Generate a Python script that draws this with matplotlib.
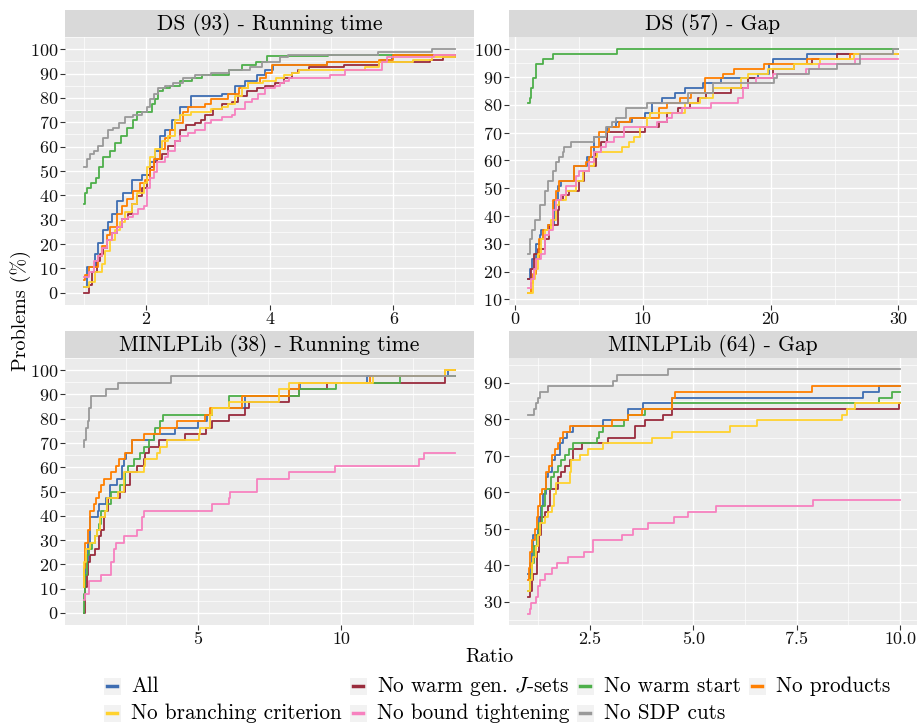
import matplotlib
matplotlib.use("Agg")
import matplotlib.pyplot as plt
from matplotlib.patches import Rectangle
from matplotlib.lines import Line2D

plt.rcParams['font.family'] = 'cmr10'
plt.rcParams['mathtext.fontset'] = 'cm'
plt.rcParams['axes.formatter.use_mathtext'] = True

##====================
## 系列名と色
##====================
labels = ["All", "No warm gen. $J$-sets", "No warm start", "No products",
          "No branching criterion", "No bound tightening", "No SDP cuts"]
colors = ["#3E6DB2", "#992B3C", "#4DAF4A", "#FF7F00",
          "#FFD22E", "#F781BF", "#999999"]

##====================
## DS (93) - Running time
##====================
dst_all_x = [1.0, 1.05, 1.19, 1.24, 1.32, 1.40, 1.46, 1.54, 1.64, 1.78, 1.94, 2.07, 2.15, 2.23, 2.31, 2.42,
             2.55, 2.74, 3.23, 3.44, 3.60, 3.80, 3.93, 4.06, 4.93, 5.80, 5.97, 7.0]
dst_all_y = [2.2, 10.8, 16.1, 20.4, 25.8, 29.0, 32.3, 37.6, 40.9, 46.2, 48.4, 53.8, 58.1, 64.5, 66.7, 71.0,
             76.3, 80.6, 81.7, 84.9, 87.1, 89.2, 91.4, 93.5, 94.6, 95.7, 97.8, 97.8]
dst_jset_x = [1.0, 1.08, 1.13, 1.21, 1.27, 1.32, 1.38, 1.46, 1.54, 1.62, 1.72, 1.78, 1.86, 1.94, 2.02, 2.07,
              2.13, 2.18, 2.26, 2.37, 2.47, 2.55, 2.66, 2.80, 2.90, 2.96, 3.09, 3.23, 3.39, 3.49, 3.63, 3.80,
              3.93, 4.09, 4.23, 4.36, 4.46, 4.63, 5.20, 5.76, 6.59, 6.80, 7.0]
dst_jset_y = [0.0, 3.2, 8.6, 12.9, 16.1, 18.3, 21.5, 24.7, 26.9, 30.1, 32.3, 36.6, 39.8, 43.0, 48.4, 51.6,
              53.8, 54.8, 57.0, 60.2, 62.4, 66.7, 68.8, 69.9, 71.0, 73.1, 75.3, 77.4, 78.5, 80.6, 82.8, 83.9,
              85.0, 86.0, 88.2, 90.3, 91.4, 92.5, 93.5, 94.6, 95.7, 96.8, 96.8]
dst_warm_x = [1.0, 1.03, 1.06, 1.12, 1.20, 1.25, 1.32, 1.42, 1.50, 1.60, 1.70, 1.80, 1.86, 2.10, 2.15, 2.20,
              2.28, 2.40, 2.55, 2.75, 2.91, 3.34, 3.55, 3.78, 3.96, 4.95, 7.0]
dst_warm_y = [36.6, 40.9, 43.0, 45.2, 47.3, 51.6, 55.9, 58.1, 61.3, 64.5, 67.7, 71.0, 74.2, 77.4, 79.6, 82.8,
              83.9, 84.9, 87.1, 88.2, 89.2, 91.4, 93.5, 94.6, 97.0, 97.8, 97.8]
dst_prod_x = [1.0, 1.03, 1.08, 1.24, 1.29, 1.38, 1.43, 1.54, 1.62, 1.70, 1.80, 1.91, 1.99, 2.07, 2.13, 2.23,
              2.31, 2.39, 2.47, 2.61, 2.69, 2.96, 3.06, 3.33, 3.50, 3.65, 3.85, 3.95, 4.04, 4.93, 5.76, 6.0, 7.0]
dst_prod_y = [5.4, 7.5, 10.8, 15.1, 19.4, 23.7, 26.9, 32.3, 35.5, 38.7, 41.9, 45.2, 46.2, 50.5, 54.8, 59.1,
              63.4, 66.7, 69.9, 74.2, 76.3, 77.4, 79.6, 81.7, 83.9, 86.0, 88.2, 90.3, 93.5, 94.6, 95.7, 97.8, 97.8]
dst_branch_x = [1.0, 1.08, 1.19, 1.29, 1.35, 1.43, 1.51, 1.59, 1.67, 1.78, 1.86, 1.97, 2.02, 2.07, 2.15, 2.26,
                2.37, 2.47, 2.55, 2.74, 3.06, 3.23, 3.33, 3.45, 3.55, 3.65, 3.90, 4.10, 4.23, 4.36, 4.47, 5.54,
                5.76, 6.32, 6.62, 7.0]
dst_branch_y = [2.2, 4.3, 8.6, 11.8, 17.2, 21.5, 25.8, 29.0, 33.3, 36.6, 40.9, 45.2, 51.6, 55.9, 59.1, 62.4,
                64.5, 71.0, 73.1, 74.2, 75.3, 76.3, 77.4, 80.6, 83.9, 86.0, 87.1, 88.2, 89.2, 90.3, 91.4, 92.5,
                94.6, 95.7, 96.8, 96.8]
dst_bound_x = [1.0, 1.08, 1.16, 1.24, 1.29, 1.38, 1.46, 1.54, 1.62, 1.72, 1.80, 1.88, 1.97, 2.02, 2.07, 2.13,
               2.18, 2.31, 2.37, 2.47, 2.55, 2.69, 2.80, 2.96, 3.06, 3.23, 3.39, 3.44, 3.60, 3.71, 3.82, 3.93,
               4.09, 4.17, 4.23, 4.31, 4.98, 5.22, 5.81, 5.89, 6.65, 7.0]
dst_bound_y = [6.5, 8.6, 12.9, 15.1, 18.3, 21.5, 24.7, 26.9, 30.1, 31.2, 32.3, 34.4, 35.5, 43.0, 47.3, 49.5,
               53.8, 55.9, 58.1, 62.4, 64.5, 65.6, 66.7, 69.9, 71.0, 72.0, 73.1, 75.3, 78.5, 79.6, 81.7, 83.9,
               84.9, 86.0, 87.1, 88.2, 89.2, 91.4, 94.6, 96.8, 97.8, 97.8]
dst_sdp_x = [1.0, 1.06, 1.10, 1.16, 1.24, 1.32, 1.40, 1.48, 1.57, 1.67, 1.80, 1.94, 2.02, 2.07, 2.13, 2.20,
             2.31, 2.45, 2.60, 2.80, 3.05, 3.35, 3.69, 3.88, 4.17, 4.30, 5.75, 6.62, 7.0]
dst_sdp_y = [51.6, 54.8, 57.0, 58.1, 60.2, 63.4, 66.7, 67.7, 69.9, 72.0, 73.1, 74.2, 76.3, 79.6, 81.7, 83.9,
             84.9, 86.0, 88.2, 89.2, 90.3, 91.4, 92.5, 94.6, 96.8, 97.8, 98.9, 100.0, 100.0]

##====================
## DS (57) - Gap
##====================
dsg_all_x = [1.0, 1.21, 1.37, 1.63, 1.94, 2.07, 2.58, 3.10, 3.36, 3.62, 4.65, 5.68, 6.20, 7.24, 7.88, 9.17,
             10.21, 10.72, 11.50, 12.53, 13.31, 14.73, 16.15, 18.99, 19.90, 20.16, 22.87, 30.0]
dsg_all_y = [17.5, 21.1, 24.6, 29.8, 33.3, 35.1, 36.8, 45.6, 50.9, 52.6, 57.9, 61.4, 68.4, 71.9, 73.7, 75.4,
             77.2, 80.7, 82.5, 84.2, 86.0, 87.7, 89.5, 91.2, 94.7, 96.5, 98.2, 98.2]
dsg_jset_x = [1.0, 1.29, 1.47, 1.81, 2.33, 2.71, 3.36, 3.49, 3.75, 4.26, 5.04, 5.43, 5.81, 6.33, 6.72, 7.24,
              10.21, 11.24, 11.89, 12.79, 13.70, 14.34, 14.99, 16.93, 18.22, 20.16, 21.83, 23.26, 25.19, 30.0]
dsg_jset_y = [17.5, 21.1, 26.3, 28.1, 31.6, 36.8, 42.1, 45.6, 47.4, 49.1, 52.6, 56.1, 57.9, 63.2, 66.7, 70.2,
              71.9, 73.7, 77.2, 78.9, 80.7, 82.5, 84.2, 86.0, 89.5, 93.0, 94.7, 96.5, 98.2, 98.2]
dsg_warm_x = [1.0, 1.16, 1.29, 1.42, 1.63, 2.20, 2.97, 8.01, 30.0]
dsg_warm_y = [80.7, 82.5, 86.0, 89.5, 94.7, 96.5, 98.2, 100.0, 100.0]
dsg_prod_x = [1.0, 1.29, 1.42, 1.63, 1.89, 2.20, 2.58, 2.97, 3.23, 3.44, 4.65, 5.56, 5.81, 5.94, 6.59, 7.36,
              8.14, 9.04, 11.24, 11.89, 12.92, 13.80, 14.86, 16.28, 17.18, 19.51, 22.87, 26.23, 30.0]
dsg_prod_y = [12.3, 15.8, 19.3, 24.6, 31.6, 35.1, 36.8, 45.6, 49.1, 52.6, 57.9, 59.6, 61.4, 64.9, 70.2, 71.9,
              73.7, 75.4, 78.9, 80.7, 82.5, 84.2, 89.5, 91.2, 93.0, 94.7, 96.5, 98.2, 98.2]
dsg_branch_x = [1.0, 1.42, 1.55, 1.81, 2.07, 2.40, 2.84, 3.23, 3.49, 4.01, 4.78, 5.30, 5.81, 6.20, 6.46, 8.40,
                8.91, 9.30, 9.82, 10.34, 10.59, 13.31, 14.47, 15.50, 17.70, 18.22, 19.77, 21.83, 23.90, 26.49, 30.0]
dsg_branch_y = [12.3, 17.5, 21.1, 26.3, 31.6, 35.1, 38.6, 43.9, 45.6, 49.1, 52.6, 56.1, 57.9, 61.4, 63.2, 64.9,
                66.7, 68.4, 71.9, 75.4, 77.2, 80.7, 82.5, 86.0, 89.5, 91.2, 93.0, 94.7, 96.5, 98.2, 98.2]
dsg_bound_x = [1.0, 1.29, 1.47, 1.68, 2.07, 2.33, 2.71, 2.97, 3.23, 3.62, 4.01, 4.78, 5.04, 5.81, 6.20, 6.72,
               7.11, 7.75, 8.53, 11.11, 11.89, 12.27, 13.05, 15.37, 17.44, 17.83, 18.22, 18.86, 20.16, 22.74,
               23.77, 26.61, 30.0]
dsg_bound_y = [14.0, 17.5, 21.1, 24.6, 26.3, 33.3, 35.1, 42.1, 45.6, 47.4, 50.9, 54.4, 56.1, 59.6, 63.2, 64.9,
               66.7, 68.4, 71.9, 73.7, 75.4, 77.2, 78.9, 80.7, 82.5, 86.0, 87.7, 89.5, 91.2, 93.0,
               94.7, 96.5, 96.5]
dsg_sdp_x = [1.0, 1.16, 1.37, 1.55, 1.94, 2.33, 2.58, 2.97, 3.23, 3.49, 3.75, 3.88, 4.39, 6.20, 7.11, 7.62,
             7.88, 8.66, 10.34, 13.57, 15.50, 20.28, 20.50, 23.00, 25.20, 27.00, 29.59, 30.0]
dsg_sdp_y = [26.3, 31.6, 35.1, 38.6, 43.9, 49.1, 52.6, 56.1, 59.6, 61.4, 63.2, 64.9, 66.7, 68.4, 71.9, 73.7,
             75.4, 78.9, 80.7, 84.2, 87.7, 89.5, 91.2, 93.0, 94.7, 98.2, 100.0, 100.0]

##====================
## MINLPLib (38) - Running time
##====================
mlt_all_x = [1.0, 1.06, 1.15, 1.23, 1.52, 1.55, 1.78, 1.93, 2.17, 2.36, 2.43, 2.48, 2.71, 3.45, 4.18, 5.0,
             5.31, 5.49, 6.63, 8.17, 8.55, 10.9, 13.73, 14.0]
mlt_all_y = [10.5, 21.1, 28.9, 39.5, 42.1, 44.7, 47.4, 52.6, 55.3, 60.5, 63.2, 65.8, 71.1, 73.7, 76.3, 78.9,
             81.6, 84.2, 89.5, 92.1, 94.7, 97.4, 100.0, 100.0]
mlt_jset_x = [1.0, 1.06, 1.12, 1.17, 1.23, 1.41, 1.55, 1.62, 1.70, 1.76, 1.87, 2.28, 2.46, 2.63, 2.86, 3.10,
              3.16, 3.27, 3.62, 4.55, 5.29, 5.49, 6.07, 6.65, 6.80, 8.17, 8.52, 9.51, 13.65, 14.0]
mlt_jset_y = [0.0, 10.5, 15.8, 21.1, 23.7, 26.3, 31.6, 34.2, 39.5, 42.1, 47.4, 50.0, 52.6, 57.9, 60.5, 63.2,
              65.8, 68.4, 71.1, 73.7, 76.3, 78.9, 81.6, 84.2, 86.8, 89.5, 92.1, 94.7, 97.4, 97.4]
mlt_warm_x = [1.0, 1.03, 1.06, 1.12, 1.20, 1.29, 1.41, 1.47, 1.55, 1.62, 1.82, 1.97, 2.28, 2.46, 2.57, 2.75,
              2.98, 3.10, 3.27, 3.45, 3.51, 3.68, 3.76, 5.49, 6.07, 8.52, 9.84, 12.07, 14.0]
mlt_warm_y = [0.0, 7.9, 15.8, 23.7, 26.3, 28.9, 31.6, 34.2, 36.8, 42.1, 44.7, 50.0, 52.6, 57.9, 60.5, 63.2,
              65.8, 68.4, 71.1, 73.7, 76.3, 78.9, 81.6, 84.2, 89.5, 92.1, 94.7, 97.4, 97.4]
mlt_prod_x = [1.0, 1.03, 1.06, 1.15, 1.23, 1.35, 1.43, 1.55, 1.62, 1.73, 1.97, 2.13, 2.25, 2.46, 2.71, 3.10,
              3.68, 4.26, 5.25, 5.43, 6.54, 8.17, 8.52, 11.0, 13.65, 14.0]
mlt_prod_y = [10.5, 18.4, 28.9, 34.2, 42.1, 44.7, 47.4, 50.0, 52.6, 55.3, 57.9, 60.5, 63.2, 65.8, 71.1, 73.7,
              76.3, 78.9, 81.6, 84.2, 89.5, 92.1, 94.7, 97.4, 100.0, 100.0]
mlt_branch_x = [1.0, 1.03, 1.08, 1.23, 1.41, 1.47, 1.58, 1.76, 1.82, 2.22, 2.40, 3.10, 3.16, 3.56, 3.68, 3.91,
                5.02, 5.08, 5.43, 5.49, 6.07, 7.82, 8.17, 11.12, 13.65, 14.0]
mlt_branch_y = [10.5, 21.1, 26.3, 28.9, 31.6, 34.2, 39.5, 42.1, 47.4, 50.0, 57.9, 60.5, 63.2, 65.8, 68.4, 71.1,
                73.7, 76.3, 81.6, 84.2, 86.8, 92.1, 94.7, 97.4, 100.0, 100.0]
mlt_bound_x = [1.0, 1.06, 1.20, 1.62, 1.97, 2.05, 2.13, 2.43, 2.86, 3.04, 3.10, 5.49, 6.07, 6.13, 7.06, 8.17,
               9.80, 12.72, 12.91, 14.0]
mlt_bound_y = [5.3, 7.9, 13.2, 15.8, 21.1, 26.3, 28.9, 31.6, 34.2, 39.5, 42.1, 44.7, 47.4, 50.0, 55.3, 57.9,
               60.5, 63.2, 65.8, 65.8]
mlt_sdp_x = [1.0, 1.03, 1.09, 1.15, 1.20, 1.27, 1.78, 2.20, 4.05, 14.0]
mlt_sdp_y = [68.4, 71.1, 76.3, 78.9, 84.2, 89.5, 92.1, 94.7, 97.4, 97.4]

##====================
## MINLPLib (64) - Gap
##====================
mlg_all_x = [1.0, 1.05, 1.09, 1.13, 1.23, 1.27, 1.31, 1.37, 1.43, 1.49, 1.59, 1.65, 1.77, 1.85, 1.94, 2.10,
             2.82, 3.43, 3.79, 4.48, 9.11, 9.48, 10.0]
mlg_all_y = [37.5, 40.6, 45.3, 48.4, 50.0, 53.1, 56.25, 59.4, 64.1, 65.6, 68.75, 70.3, 73.4, 75.0, 76.6, 78.1,
             79.7, 82.8, 84.4, 85.9, 87.5, 89.1, 89.1]
mlg_jset_x = [1.0, 1.05, 1.10, 1.13, 1.21, 1.27, 1.31, 1.41, 1.49, 1.53, 1.73, 1.80, 1.90, 2.02, 2.10, 2.30,
              2.94, 3.59, 3.83, 4.27, 4.48, 9.98, 10.0]
mlg_jset_y = [31.25, 32.8, 35.9, 37.5, 43.75, 48.4, 53.1, 54.7, 56.25, 60.9, 64.1, 65.6, 67.2, 68.75, 71.9,
              73.4, 75.0, 78.1, 79.7, 81.25, 82.8, 84.4, 84.4]
mlg_warm_x = [1.0, 1.05, 1.09, 1.15, 1.21, 1.27, 1.35, 1.40, 1.56, 1.64, 1.73, 1.81, 1.90, 1.98, 2.10, 2.66,
              2.72, 2.82, 3.31, 3.43, 3.83, 4.48, 9.48, 9.80, 10.0]
mlg_warm_y = [32.8, 37.5, 40.6, 45.3, 48.4, 51.6, 56.25, 60.9, 64.1, 65.6, 67.2, 68.75, 70.3, 71.9, 73.4, 75.0,
              76.6, 78.1, 79.7, 81.25, 82.8, 84.4, 85.9, 87.5, 87.5]
mlg_prod_x = [1.0, 1.02, 1.05, 1.09, 1.17, 1.21, 1.25, 1.29, 1.35, 1.43, 1.51, 1.59, 1.65, 1.73, 1.77, 1.85,
              2.02, 3.02, 3.43, 3.75, 4.48, 4.56, 7.86, 10.0]
mlg_prod_y = [35.9, 39.1, 43.75, 46.9, 50.0, 53.1, 56.25, 59.4, 60.9, 65.6, 67.2, 70.3, 71.9, 73.4, 75.0, 76.6,
              78.1, 79.7, 81.25, 82.8, 85.9, 87.5, 89.1, 89.1]
mlg_branch_x = [1.0, 1.05, 1.09, 1.13, 1.19, 1.23, 1.29, 1.40, 1.49, 1.57, 1.64, 1.67, 2.02, 2.04, 2.26, 2.46,
                2.82, 3.99, 4.48, 5.89, 6.53, 8.59, 8.72, 8.91, 10.0]
mlg_branch_y = [32.8, 35.9, 40.6, 42.2, 45.3, 48.4, 51.6, 53.1, 54.7, 56.25, 59.4, 62.5, 65.6, 68.75, 70.3,
                71.9, 73.4, 75.0, 76.6, 78.1, 79.7, 81.25, 82.8, 84.4, 84.4]
mlg_bound_x = [1.0, 1.05, 1.07, 1.19, 1.23, 1.29, 1.40, 1.59, 1.69, 1.96, 2.36, 2.58, 3.28, 3.55, 3.90, 4.52,
               4.88, 5.55, 7.90, 10.0]
mlg_bound_y = [26.6, 28.1, 29.7, 31.25, 34.4, 35.9, 37.5, 39.1, 40.6, 42.2, 43.75, 46.9, 48.4, 50.0, 51.6,
               53.1, 54.7, 56.25, 57.8, 57.8]
mlg_sdp_x = [1.0, 1.15, 1.19, 1.23, 1.29, 1.48, 3.06, 3.15, 4.39, 10.0]
mlg_sdp_y = [81.25, 82.8, 84.4, 85.9, 87.5, 89.1, 90.6, 92.2, 93.75, 93.75]

##====================
## 図の設定
##====================
W, H = 919, 724
fig = plt.figure(figsize=(W / 100, H / 100), dpi=100)
fig.patch.set_facecolor("white")


def px_rect(l, t, r, b):
    return [l / W, 1 - b / H, (r - l) / W, (b - t) / H]


def draw_panel(box, title, xlim, ylim, xmaj, xmin_, ymaj, ymin_, xlab, series):
    l, t, r, b = box
    ax = fig.add_axes(px_rect(l, t, r, b))
    ax.set_facecolor("#EBEBEB")
    for s in ax.spines.values():
        s.set_visible(False)
    ax.set_xlim(*xlim)
    ax.set_ylim(*ylim)
    ax.set_xticks(xmaj)
    ax.set_xticklabels(xlab)
    ax.set_xticks(xmin_, minor=True)
    ax.set_yticks(ymaj)
    ax.set_yticks(ymin_, minor=True)
    ax.grid(which="major", color="white", lw=1.0)
    ax.grid(which="minor", color="white", lw=0.5)
    ax.set_axisbelow(True)
    ax.tick_params(which="major", length=3.5, width=0.8, color="#333333",
                   labelsize=13, pad=1.5, labelcolor="#111111")
    ax.tick_params(which="minor", length=0)
    for (xs, ys), c in zip(series, colors):
        ax.plot(xs, ys, drawstyle="steps-post", color=c, lw=1.3)
    # strip
    st = fig.add_axes(px_rect(l, t - 27, r, t))
    st.set_facecolor("#D9D9D9")
    st.set_xticks([])
    st.set_yticks([])
    for s in st.spines.values():
        s.set_visible(False)
    st.text(0.5, 0.45, title, ha="center", va="center", fontsize=15.5, transform=st.transAxes)
    return ax


ytk = list(range(0, 101, 10))
ytk_m = list(range(5, 106, 10))

draw_panel((65, 37, 474, 305), "DS (93) - Running time", (0.7, 7.3), (-5, 105),
           [2, 4, 6], [1, 3, 5, 7], ytk, ytk_m, ["2", "4", "6"],
           [(dst_all_x, dst_all_y), (dst_jset_x, dst_jset_y), (dst_warm_x, dst_warm_y),
            (dst_prod_x, dst_prod_y), (dst_branch_x, dst_branch_y),
            (dst_bound_x, dst_bound_y), (dst_sdp_x, dst_sdp_y)])

draw_panel((509, 37, 917, 305), "DS (57) - Gap", (-0.45, 31.45), (8.0, 104.4),
           [0, 10, 20, 30], [5, 15, 25], list(range(10, 101, 10)), list(range(15, 100, 10)),
           ["0", "10", "20", "30"],
           [(dsg_all_x, dsg_all_y), (dsg_jset_x, dsg_jset_y), (dsg_warm_x, dsg_warm_y),
            (dsg_prod_x, dsg_prod_y), (dsg_branch_x, dsg_branch_y),
            (dsg_bound_x, dsg_bound_y), (dsg_sdp_x, dsg_sdp_y)])

draw_panel((65, 358, 474, 625), "MINLPLib (38) - Running time", (0.35, 14.65), (-5, 105),
           [5, 10], [2.5, 7.5, 12.5], ytk, ytk_m, ["5", "10"],
           [(mlt_all_x, mlt_all_y), (mlt_jset_x, mlt_jset_y), (mlt_warm_x, mlt_warm_y),
            (mlt_prod_x, mlt_prod_y), (mlt_branch_x, mlt_branch_y),
            (mlt_bound_x, mlt_bound_y), (mlt_sdp_x, mlt_sdp_y)])

draw_panel((509, 358, 917, 625), "MINLPLib (64) - Gap", (0.54, 10.41), (23.6, 96.8),
           [2.5, 5.0, 7.5, 10.0], [1.25, 3.75, 6.25, 8.75], list(range(30, 91, 10)),
           list(range(25, 96, 10)), ["2.5", "5.0", "7.5", "10.0"],
           [(mlg_all_x, mlg_all_y), (mlg_jset_x, mlg_jset_y), (mlg_warm_x, mlg_warm_y),
            (mlg_prod_x, mlg_prod_y), (mlg_branch_x, mlg_branch_y),
            (mlg_bound_x, mlg_bound_y), (mlg_sdp_x, mlg_sdp_y)])

# 軸ラベル
fig.text(489 / W, 1 - 657 / H, "Ratio", ha="center", va="center", fontsize=14.5)
fig.text(21 / W, 1 - 311 / H, "Problems (%)", ha="center", va="center", rotation=90, fontsize=14.5)

##====================
## 凡例 (ggplot風に行ごと)
##====================
key_x = [112, 358, 585, 757]
row_y = [686, 713]
for i, (lab, c) in enumerate(zip(labels, colors)):
    row, col = divmod(i, 4)
    cx, cy = key_x[col], row_y[row]
    fig.patches.append(Rectangle(((cx - 8.5) / W, 1 - (cy + 8.5) / H), 17 / W, 17 / H,
                                 transform=fig.transFigure, facecolor="#F2F2F2", edgecolor="none"))
    fig.lines.append(Line2D([(cx - 5) / W, (cx + 5) / W], [1 - cy / H, 1 - cy / H],
                            transform=fig.transFigure, color=c, lw=2.5))
    fig.text((cx + 19) / W, 1 - cy / H, lab, ha="left", va="center", fontsize=15.3)

fig.savefig("out.png", dpi=100)
